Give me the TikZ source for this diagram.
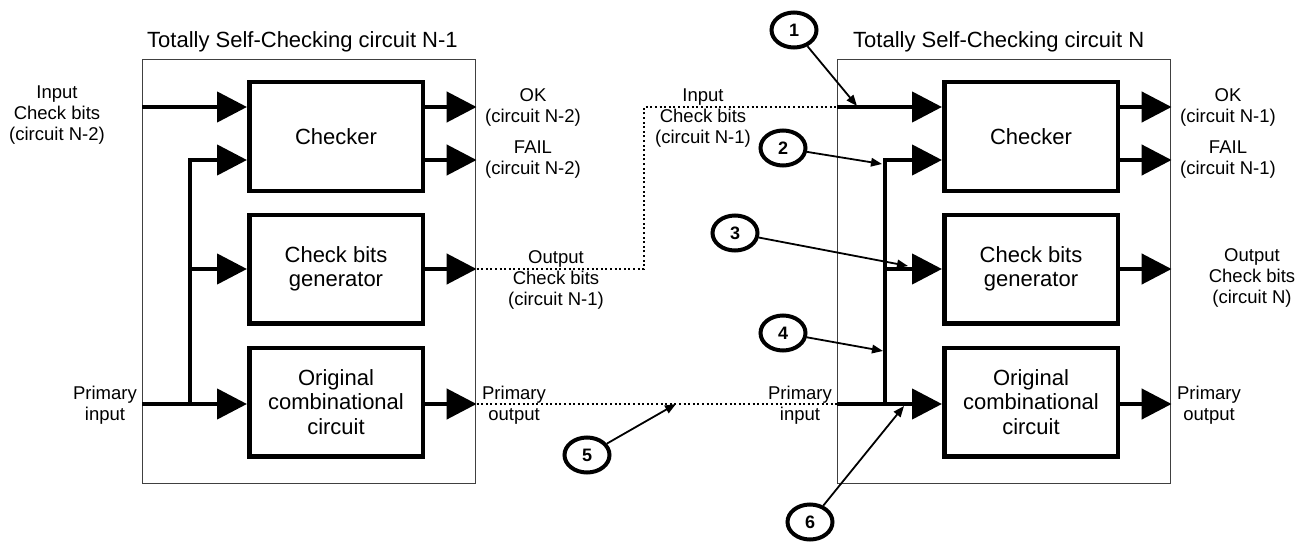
\documentclass[tikz,border=0pt]{standalone}
\usepackage{fontspec}
\setmainfont{Liberation Sans}
\usetikzlibrary{arrows.meta,shapes.geometric}
\begin{document}
\begin{tikzpicture}[x=1pt,y=-1pt,
  outerbox/.style={draw=black!75, line width=1.2pt, minimum width=333pt, minimum height=424pt, inner sep=0},
  blk/.style={draw, line width=4.5pt, minimum width=173.5pt, minimum height=108.5pt, inner sep=0, align=center, font=\fontsize{22}{24.5}\selectfont},
  lbl/.style={inner sep=0, align=center, font=\fontsize{18.5}{21}\selectfont},
  ttl/.style={inner sep=0, font=\fontsize{22}{26}\selectfont, anchor=base west},
  bus/.style={line width=4.5pt},
  sig/.style={line width=4.5pt, -{Triangle[length=30pt,width=30pt]}},
  dots/.style={line width=2pt, dash pattern=on 2pt off 2.6pt},
  num/.style={ellipse, draw, line width=4pt, minimum width=45pt, minimum height=35pt, inner sep=0, font=\fontsize{18}{18}\bfseries\selectfont},
  ptr/.style={line width=1.8pt, -{Triangle[length=11pt,width=8.5pt]}}
]
\useasboundingbox (0,0) rectangle (1307,543);

% outer boxes and titles
\node[outerbox] (boxL) at (309,271.5) {};
\node[outerbox] (boxR) at (1004,271.5) {};
\node[ttl] (ttlL) at (147,48) {Totally Self-Checking circuit N-1};
\node[ttl] (ttlR) at (853,48) {Totally Self-Checking circuit N};

% inner blocks
\node[blk] (chkL) at (336,136.5) {Checker};
\node[blk] (genL) at (336,269) {Check bits\\generator};
\node[blk] (orgL) at (336,402) {Original\\combinational\\circuit};
\node[blk] (chkR) at (1031,136.5) {Checker};
\node[blk] (genR) at (1031,269) {Check bits\\generator};
\node[blk] (orgR) at (1031,402) {Original\\combinational\\circuit};

% coordinates
\coordinate (inL) at (142,107);
\coordinate (piL) at (142,404);
\coordinate (btL) at (190,160);
\coordinate (bbL) at (190,404);
\coordinate (okLe) at (476.6,107);
\coordinate (failLe) at (476.6,160);
\coordinate (genLe) at (476.6,269);
\coordinate (poLe) at (476.6,404);
\coordinate (bend1) at (644,269);
\coordinate (bend2) at (644,107);
\coordinate (inR) at (837.4,107);
\coordinate (piR) at (837.4,404);
\coordinate (btR) at (885,160);
\coordinate (bbR) at (885,404);
\coordinate (okRe) at (1171.6,107);
\coordinate (failRe) at (1171.6,160);
\coordinate (genRe) at (1171.6,269);
\coordinate (poRe) at (1171.6,404);

% left circuit wiring
\draw[sig] (inL) -- (chkL.west |- inL);
\draw[bus] (piL) -- (bbL);
\draw[sig] (bbL) -- (orgL.west |- bbL);
\draw[sig] (bbL) -- (btL) -- (chkL.west |- btL);
\draw[sig] (genL.west -| btL) -- (genL.west);
\draw[sig] (chkL.east |- okLe) -- (okLe);
\draw[sig] (chkL.east |- failLe) -- (failLe);
\draw[sig] (genL.east) -- (genLe);
\draw[sig] (orgL.east |- poLe) -- (poLe);

% right circuit wiring
\draw[sig] (inR) -- (chkR.west |- inR);
\draw[bus] (piR) -- (bbR);
\draw[sig] (bbR) -- (orgR.west |- bbR);
\draw[sig] (bbR) -- (btR) -- (chkR.west |- btR);
\draw[sig] (genR.west -| btR) -- (genR.west);
\draw[sig] (chkR.east |- okRe) -- (okRe);
\draw[sig] (chkR.east |- failRe) -- (failRe);
\draw[sig] (genR.east) -- (genRe);
\draw[sig] (orgR.east |- poRe) -- (poRe);

% dotted links between circuits
\draw[dots] (genLe) -- (bend1) -- (bend2) -- (inR);
\draw[dots] (poLe) -- (piR);

% labels
\node[lbl] (tInL) at (57,115) {Input\\Check bits\\(circuit N-2)};
\node[lbl] (tPiL) at (105,405) {Primary\\input};
\node[lbl] (tOkL) at (533,107) {OK\\(circuit N-2)};
\node[lbl] (tFailL) at (533,160) {FAIL\\(circuit N-2)};
\node[lbl] (tOcbL) at (556,280) {Output\\Check bits\\(circuit N-1)};
\node[lbl] (tPoL) at (514,405) {Primary\\output};
\node[lbl] (tIcbR) at (703,118) {Input\\Check bits\\(circuit N-1)};
\node[lbl] (tPiR) at (800,405) {Primary\\input};
\node[lbl] (tOkR) at (1228,107) {OK\\(circuit N-1)};
\node[lbl] (tFailR) at (1228,160) {FAIL\\(circuit N-1)};
\node[lbl] (tOcbR) at (1252,278) {Output\\Check bits\\(circuit N)};
\node[lbl] (tPoR) at (1209,405) {Primary\\output};

% numbered markers
\node[num] (n1) at (794,30) {1};
\node[num] (n2) at (783,148) {2};
\node[num] (n3) at (735,233) {3};
\node[num] (n4) at (783,333) {4};
\node[num] (n5) at (587,455) {5};
\node[num] (n6) at (810,522) {6};
\coordinate (t1) at (857,106);
\coordinate (t2) at (882,164);
\coordinate (t3) at (908,266);
\coordinate (t4) at (883,351);
\coordinate (t5) at (676,404);
\coordinate (t6) at (904,406);
\draw[ptr] (n1) -- (t1);
\draw[ptr] (n2) -- (t2);
\draw[ptr] (n3) -- (t3);
\draw[ptr] (n4) -- (t4);
\draw[ptr] (n5) -- (t5);
\draw[ptr] (n6) -- (t6);
\end{tikzpicture}
\end{document}
